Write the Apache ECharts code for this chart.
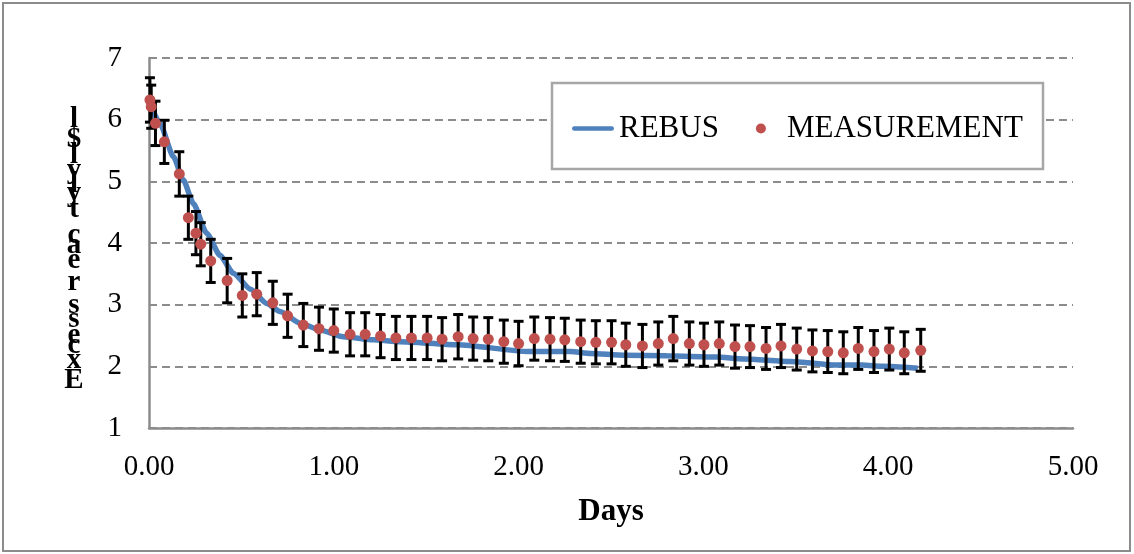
<!doctype html>
<html>
<head>
<meta charset="utf-8">
<title>REBUS vs measurement</title>
<script type="text/javascript" src="https://cdn.jsdelivr.net/npm/echarts@6/dist/echarts.min.js"></script>
</head>
<body style="margin:0;padding:0;background:#fff">
<div id="tb" style="width:1134px;height:554px;"></div>
<script>
// REBUS model curve (days, value)
var rebusDays = [0, 0.005, 0.059, 0.132, 0.186, 0.24, 0.312, 0.384, 0.456, 0.55, 0.637, 0.709, 0.817, 0.925, 1.051, 1.214, 1.358, 1.67, 2.05, 2.28, 2.39, 2.57, 2.8, 3.07, 3.22, 3.47, 3.72, 3.86, 3.97, 4.16];
var rebusVals = [6.3, 6.21, 5.94, 5.40, 5.02, 4.64, 4.16, 3.80, 3.51, 3.25, 3.02, 2.89, 2.70, 2.59, 2.48, 2.43, 2.40, 2.35, 2.24, 2.24, 2.21, 2.18, 2.17, 2.15, 2.12, 2.08, 2.02, 2.02, 2.0, 1.97];

// measurements (days, value, std dev)
var measDays = [0.005, 0.012, 0.035, 0.083, 0.164, 0.213, 0.254, 0.28, 0.334, 0.423, 0.505, 0.583, 0.67, 0.75, 0.835, 0.92, 1.0, 1.088, 1.17, 1.253, 1.336, 1.42, 1.505, 1.586, 1.673, 1.754, 1.836, 1.92, 2.0, 2.085, 2.17, 2.25, 2.336, 2.418, 2.503, 2.58, 2.67, 2.756, 2.837, 2.924, 3.003, 3.086, 3.171, 3.252, 3.339, 3.42, 3.505, 3.59, 3.673, 3.757, 3.838, 3.923, 4.006, 4.087, 4.176];
var measVals = [6.32, 6.21, 5.94, 5.64, 5.12, 4.41, 4.16, 3.98, 3.71, 3.39, 3.15, 3.17, 3.03, 2.82, 2.67, 2.61, 2.58, 2.52, 2.52, 2.49, 2.46, 2.46, 2.46, 2.44, 2.48, 2.45, 2.44, 2.40, 2.37, 2.45, 2.44, 2.43, 2.40, 2.39, 2.39, 2.35, 2.33, 2.37, 2.45, 2.37, 2.35, 2.37, 2.32, 2.32, 2.29, 2.33, 2.28, 2.25, 2.24, 2.22, 2.29, 2.24, 2.28, 2.22, 2.26];
var measSd = [0.36, 0.35, 0.36, 0.35, 0.36, 0.35, 0.35, 0.35, 0.35, 0.36, 0.35, 0.35, 0.35, 0.35, 0.35, 0.35, 0.35, 0.35, 0.35, 0.35, 0.35, 0.35, 0.35, 0.35, 0.36, 0.35, 0.35, 0.35, 0.36, 0.35, 0.35, 0.35, 0.35, 0.35, 0.35, 0.35, 0.35, 0.35, 0.36, 0.35, 0.35, 0.35, 0.35, 0.34, 0.34, 0.35, 0.34, 0.34, 0.34, 0.34, 0.34, 0.34, 0.34, 0.34, 0.34];

var xTicks = [0, 1, 2, 3, 4, 5];
var yTicks = [1, 2, 3, 4, 5, 6, 7];

var serif = '"Liberation Serif", "Times New Roman", serif';

var rebusData = rebusDays.map(function (d, i) { return [d, rebusVals[i]]; });
var measData = measDays.map(function (d, i) { return [d, measVals[i]]; });
var errData = measDays.map(function (d, i) { return [d, measVals[i] - measSd[i], measVals[i] + measSd[i]]; });

// garbled vertical axis title, letters stacked as in the original
var titleChars = [['l', 127], ['$', 147], ['l', 163], ['y', 178], ['l', 192], ['y', 201], ['t', 217], ['c', 243], ['a', 253], ['e', 268], ['r', 290], ['s', 313], ['s', 327], ['e', 343], ['c', 353], ['x', 368], ['E', 388]];
var titleGraphics = titleChars.map(function (c) {
    return {
        type: 'text', x: 74, y: c[1] + 7, silent: true, z: 5,
        style: { text: c[0], font: 'bold 29px ' + serif, fill: '#000', align: 'center', verticalAlign: 'bottom' }
    };
});

var bt = document.getElementById('tb');
var chart = echarts.init(bt, null, { renderer: 'canvas' });

function renderErr(params, api) {
    var x = api.value(0);
    var lo = api.coord([x, api.value(1)]);
    var hi = api.coord([x, api.value(2)]);
    var cw = 5;
    var st = { stroke: '#000', lineWidth: 3 };
    return {
        type: 'group',
        children: [
            { type: 'line', shape: { x1: hi[0], y1: hi[1], x2: lo[0], y2: lo[1] }, style: st },
            { type: 'line', shape: { x1: hi[0] - cw, y1: hi[1], x2: hi[0] + cw, y2: hi[1] }, style: st },
            { type: 'line', shape: { x1: lo[0] - cw, y1: lo[1], x2: lo[0] + cw, y2: lo[1] }, style: st }
        ]
    };
}

chart.setOption({
    backgroundColor: '#fff',
    animation: false,
    grid: { left: 149, right: 61, top: 58, bottom: 126, containLabel: false },
    legend: {
        left: 572, top: 113, z: 20, padding: 0, itemGap: 37,
        itemWidth: 42, itemHeight: 10,
        data: [
            { name: 'REBUS', icon: 'path://M2,0 L82,0 A5,5 0 0 1 82,10 L2,10 A5,5 0 0 1 2,0 Z' },
            { name: 'MEASUREMENT', icon: 'circle' }
        ],
        textStyle: { fontFamily: serif, fontSize: 31, color: '#000' }
    },
    xAxis: {
        type: 'value', min: 0, max: 5, interval: 1,
        name: 'Days', nameLocation: 'middle', nameGap: 68,
        nameTextStyle: { fontFamily: serif, fontSize: 31, fontWeight: 'bold', color: '#000' },
        axisLine: { show: true, lineStyle: { color: '#8c8c8c', width: 2.5 } },
        axisTick: { show: false },
        splitLine: { show: false },
        axisLabel: {
            margin: 25, fontFamily: serif, fontSize: 29, color: '#000',
            formatter: function (v) { return xTicks.indexOf(v) >= 0 ? v.toFixed(2) : ''; }
        }
    },
    yAxis: {
        type: 'value', min: 1, max: 7, interval: 1,
        axisLine: { show: true, lineStyle: { color: '#8c8c8c', width: 2.5 } },
        axisTick: { show: false },
        splitLine: { show: true, lineStyle: { color: '#8c8c8c', width: 2, type: [8, 5] } },
        axisLabel: {
            margin: 27, fontFamily: serif, fontSize: 29, color: '#000',
            formatter: function (v) { return yTicks.indexOf(v) >= 0 ? String(v) : ''; }
        }
    },
    graphic: [
        {
            type: 'rect', z: 0, silent: true,
            shape: { x: 3, y: 3, width: 1127, height: 548 },
            style: { fill: 'none', stroke: '#8c8c8c', lineWidth: 2 }
        },
        {
            type: 'rect', z: 10, silent: true,
            shape: { x: 552, y: 83, width: 491, height: 86 },
            style: { fill: '#fff', stroke: '#a6a6a6', lineWidth: 2.5 }
        }
    ].concat(titleGraphics),
    series: [
        {
            name: 'REBUS', type: 'line', data: rebusData,
            smooth: 0.2, smoothMonotone: 'x', symbol: 'none', z: 2,
            lineStyle: { color: '#4f81bd', width: 5.5 },
            itemStyle: { color: '#4f81bd' }
        },
        {
            name: 'err', type: 'custom', data: errData, renderItem: renderErr,
            encode: { x: 0, y: [1, 2] }, z: 3, silent: true
        },
        {
            name: 'MEASUREMENT', type: 'scatter', data: measData,
            symbol: 'circle', symbolSize: 11, z: 4,
            itemStyle: { color: '#c0504d', opacity: 1 }
        }
    ]
});
</script>
</body>
</html>
